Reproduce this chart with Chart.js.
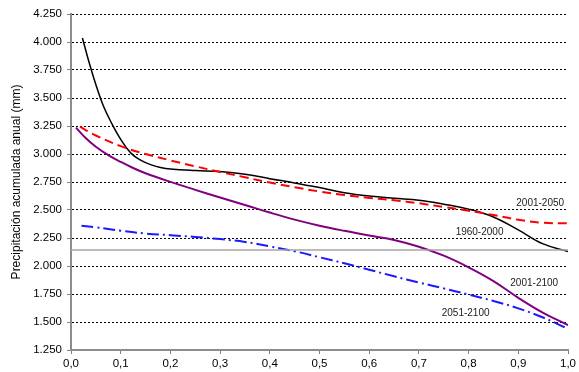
<!DOCTYPE html>
<html>
<head>
<meta charset="utf-8">
<script src="https://cdn.jsdelivr.net/npm/chart.js@4"></script>
<style>
  html, body { margin: 0; padding: 0; background: #fff; }
  canvas { display: block; }
</style>
</head>
<body>
<canvas id="c" width="579" height="372"></canvas>
<script>
// Curve samples: probability (x) and accumulated annual precipitation in mm (y)
const serie1960_2000 = [
  [0.023, 4036], [0.035, 3840], [0.05, 3620], [0.065, 3430], [0.08, 3290],
  [0.1, 3130], [0.12, 3010], [0.14, 2945], [0.16, 2905], [0.18, 2880],
  [0.2, 2866], [0.25, 2852], [0.3, 2843], [0.35, 2820],
  [0.4, 2780], [0.45, 2742], [0.5, 2700], [0.55, 2655], [0.6, 2625],
  [0.65, 2605], [0.7, 2588], [0.75, 2552], [0.8, 2508], [0.85, 2438],
  [0.9, 2322], [0.95, 2197], [1.0, 2130]
];
const serie2001_2050 = [
  [0.018, 3244], [0.05, 3165], [0.1, 3070], [0.15, 3000], [0.2, 2943],
  [0.25, 2890], [0.3, 2840], [0.35, 2792], [0.4, 2745], [0.45, 2703],
  [0.5, 2665], [0.55, 2633], [0.6, 2608], [0.65, 2587], [0.7, 2560],
  [0.75, 2527], [0.8, 2494], [0.85, 2455], [0.9, 2413], [0.95, 2386],
  [1.0, 2381]
];
const serie2001_2100 = [
  [0.01, 3235], [0.03, 3140], [0.05, 3065], [0.075, 2990], [0.1, 2930],
  [0.125, 2875], [0.15, 2828], [0.2, 2751], [0.25, 2680], [0.3, 2611],
  [0.35, 2545], [0.4, 2477], [0.45, 2414], [0.5, 2360], [0.55, 2314],
  [0.6, 2272], [0.65, 2233], [0.7, 2172], [0.75, 2092], [0.8, 1988],
  [0.85, 1865], [0.9, 1716], [0.95, 1582], [1.0, 1472]
];
const serie2051_2100 = [
  [0.021, 2360], [0.05, 2345], [0.1, 2315], [0.15, 2290], [0.2, 2275],
  [0.25, 2260], [0.3, 2240], [0.35, 2215], [0.4, 2175], [0.45, 2132],
  [0.5, 2078], [0.55, 2024], [0.6, 1967], [0.65, 1908], [0.7, 1853],
  [0.75, 1800], [0.8, 1745], [0.85, 1688], [0.9, 1622], [0.95, 1540],
  [0.995, 1450]
];
// Horizontal reference level (mm)
const referenceLevel = 2143;

const seriesNames = ['1960-2000', '2001-2050', '2001-2100', '2051-2100'];
const xTickLabels = ['0,0', '0,1', '0,2', '0,3', '0,4', '0,5', '0,6', '0,7', '0,8', '0,9', '1,0'];
const yTickValues = [1250, 1500, 1750, 2000, 2250, 2500, 2750, 3000, 3250, 3500, 3750, 4000, 4250];
const yTickLabels = ['1.250', '1.500', '1.750', '2.000', '2.250', '2.500', '2.750', '3.000', '3.250', '3.500', '3.750', '4.000', '4.250'];

const toPoints = arr => arr.map(([x, y]) => ({ x, y }));

// Where each series name is written, in data units
const seriesLabelAnchors = {
  '1960-2000': { x: 0.822, y: 2305 },
  '2001-2050': { x: 0.944, y: 2558 },
  '2001-2100': { x: 0.932, y: 1845 },
  '2051-2100': { x: 0.794, y: 1578 }
};

const FONT = '"Liberation Sans", Arial, sans-serif';

const seriesLabels = {
  id: 'seriesLabels',
  afterDatasetsDraw(chart) {
    const { ctx, scales } = chart;
    ctx.save();
    ctx.font = '10px ' + FONT;
    ctx.fillStyle = '#222';
    ctx.textAlign = 'center';
    ctx.textBaseline = 'middle';
    seriesNames.forEach(name => {
      const a = seriesLabelAnchors[name];
      ctx.fillText(name, scales.x.getPixelForValue(a.x), scales.y.getPixelForValue(a.y));
    });
    ctx.restore();
  }
};

const common = { pointRadius: 0, pointHoverRadius: 0, fill: false, tension: 0.4 };

new Chart(document.getElementById('c'), {
  type: 'line',
  data: {
    datasets: [
      { ...common, label: 'referencia', data: toPoints([[0, referenceLevel], [1, referenceLevel]]),
        borderColor: '#a6a6a6', borderWidth: 1.5, tension: 0 },
      { ...common, label: seriesNames[3], data: toPoints(serie2051_2100),
        borderColor: '#1a1aff', borderWidth: 2, borderDash: [12, 4, 2, 4] },
      { ...common, label: seriesNames[2], data: toPoints(serie2001_2100),
        borderColor: '#800080', borderWidth: 2 },
      { ...common, label: seriesNames[1], data: toPoints(serie2001_2050),
        borderColor: '#ff0000', borderWidth: 2, borderDash: [9, 5] },
      { ...common, label: seriesNames[0], data: toPoints(serie1960_2000),
        borderColor: '#000000', borderWidth: 1.5 }
    ]
  },
  options: {
    responsive: false,
    animation: false,
    events: [],
    layout: { padding: { top: 14, right: 0, bottom: 0, left: 0 } },
    plugins: { legend: { display: false }, tooltip: { enabled: false } },
    scales: {
      x: {
        type: 'linear',
        min: 0, max: 1,
        afterBuildTicks: s => { s.ticks = xTickLabels.map((_, i) => ({ value: i / 10 })); },
        ticks: {
          callback: (v, i) => xTickLabels[i],
          font: { family: FONT, size: 11.5 }, color: '#000', padding: 3,
          maxRotation: 0, autoSkip: false
        },
        grid: { drawOnChartArea: false, drawTicks: true, tickLength: 4, tickColor: '#808080', tickWidth: 1 },
        border: { display: true, color: '#8c8c8c', width: 2 },
        afterFit: s => { s.height = 22; }
      },
      y: {
        min: 1250, max: 4250,
        afterBuildTicks: s => { s.ticks = yTickValues.map(v => ({ value: v })); },
        ticks: {
          callback: (v, i) => yTickLabels[i],
          font: { family: FONT, size: 11.5 }, color: '#000', padding: 5, autoSkip: false
        },
        grid: {
          color: ctx => (ctx.tick && ctx.tick.value === 1250) ? 'rgba(0,0,0,0)' : '#000',
          lineWidth: 1, tickLength: 4, tickColor: '#808080', tickWidth: 1, tickBorderDash: []
        },
        border: { display: true, color: '#8c8c8c', width: 2, dash: [2, 2] },
        title: {
          display: true, text: 'Precipitación acumulada anual (mm)',
          font: { family: FONT, size: 12 }, color: '#000', padding: { top: 9, bottom: 0 }
        },
        afterFit: s => { s.width = 71; }
      }
    }
  },
  plugins: [seriesLabels]
});
</script>
</body>
</html>
